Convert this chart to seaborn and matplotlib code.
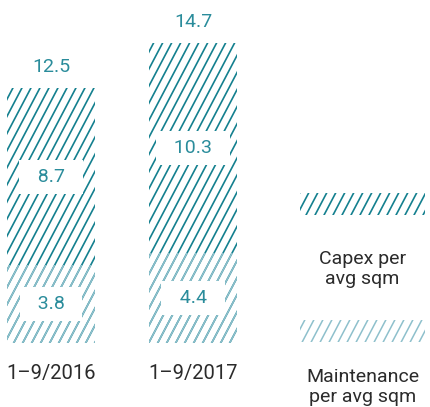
import numpy as np
import pandas as pd
import matplotlib
matplotlib.use('Agg')
import matplotlib.pyplot as plt
import seaborn as sns
from matplotlib.collections import LineCollection
from matplotlib.patches import Rectangle
from matplotlib.transforms import IdentityTransform

# Données
periods = ['1–9/2016', '1–9/2017']
capex = [8.7, 10.3]
maintenance = [3.8, 4.4]
totals = [12.5, 14.7]

legend_labels = ['Capex per\navg sqm', 'Maintenance\nper avg sqm']

dark = '#14808f'
light = '#8ec0cc'
teal_text = '#2a8c9b'
grey_text = '#2b2b2b'

sns.set_theme(style='white')
plt.rcParams['font.family'] = ['Roboto', 'DejaVu Sans']

df = pd.DataFrame({'period': periods, 'capex': capex,
                   'maintenance': maintenance, 'total': totals})

W, H = 430, 407
fig = plt.figure(figsize=(W / 100, H / 100), dpi=100)
ax = fig.add_axes([0, 0, 1, 1])

# barre totale puis maintenance par-dessus (empilement)
sns.barplot(data=df, x='period', y='total', color='white', width=0.62,
            linewidth=0, saturation=1, ax=ax)
n = len(ax.patches)
sns.barplot(data=df, x='period', y='maintenance', color='white', width=0.62,
            linewidth=0, saturation=1, ax=ax)
total_bars = ax.patches[:n]
maint_bars = ax.patches[n:]


def hatch(patch, color, lw):
    # hachures inclinées, découpées selon la forme
    segs = [[(c, 0), (c + H / 1.9, H)] for c in np.arange(-H, W + 9, 9)]
    lc = LineCollection(segs, colors=color, linewidths=lw,
                        transform=IdentityTransform())
    ax.add_collection(lc, autolim=False)
    lc.set_clip_box(None)
    lc.set_clip_path(patch.get_path(), patch.get_transform())


for p in total_bars:
    hatch(p, dark, 1.2)
for p in maint_bars:
    hatch(p, light, 1.1)

# étiquettes
box = dict(boxstyle='square,pad=0.42', fc='white', ec='none')
for i in range(len(periods)):
    ax.text(i, maintenance[i] + capex[i] / 2, f'  {capex[i]}  ', ha='center',
            va='center', fontsize=14, color=teal_text, bbox=box, zorder=5)
    ax.text(i, maintenance[i] / 2, f'  {maintenance[i]}  ', ha='center',
            va='center', fontsize=14, color=teal_text, bbox=box, zorder=5)
    ax.annotate(f'{totals[i]}', (i, totals[i]), xytext=(0, 15),
                textcoords='offset points', ha='center', va='center',
                fontsize=14, color=teal_text)

# légende à droite
swatches = [(0.472, 0.054, dark, 1.2), (0.160, 0.054, light, 1.1)]
text_y = [0.34, 0.05]
for (y0, h, col, lw), lab, ty in zip(swatches, legend_labels, text_y):
    r = Rectangle((0.698, y0), 0.29, h, transform=ax.transAxes,
                  fc='white', ec='none')
    ax.add_patch(r)
    hatch(r, col, lw)
    ax.text(0.843, ty, lab, transform=ax.transAxes, ha='center', va='center',
            fontsize=14, color=grey_text, linespacing=1.15)

ax.set_xlim(-0.359, 2.669)
ax.set_ylim(-3.14, 16.81)
ax.set_xlabel('')
ax.set_ylabel('')
ax.set_yticks([])
sns.despine(ax=ax, left=True, bottom=True)
ax.spines['bottom'].set_position(('data', 0))
ax.tick_params(axis='x', length=0, pad=15, labelsize=14.5, labelcolor=grey_text)

fig.savefig('out.png', dpi=100)
